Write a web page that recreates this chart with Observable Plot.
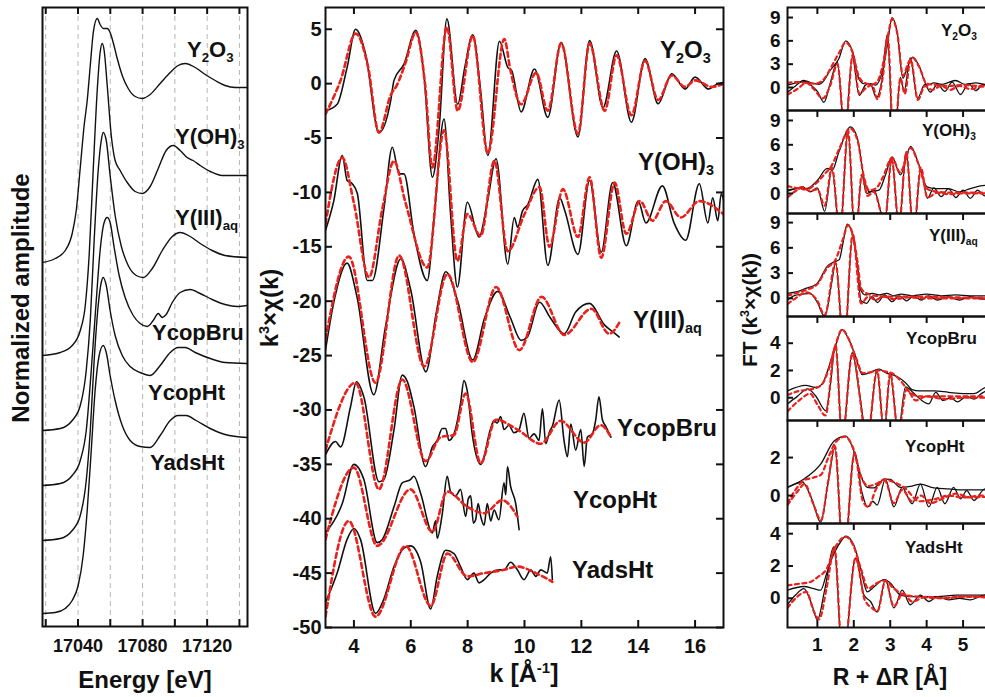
<!DOCTYPE html>
<html><head><meta charset="utf-8">
<script src="https://cdn.jsdelivr.net/npm/d3@7"></script>
<script src="https://cdn.jsdelivr.net/npm/@observablehq/plot@0.6"></script>
<style>
html,body{margin:0;padding:0;background:#fff;overflow:hidden;width:985px;height:697px;}
#root{position:relative;width:985px;height:697px;overflow:hidden;background:#fff;font-family:"Liberation Sans",Arial,sans-serif;}
.lbl{position:absolute;font-weight:bold;color:#111;white-space:nowrap;line-height:1;transform:translateY(-50%);}
.lbl sub{font-size:0.6em;vertical-align:baseline;position:relative;top:0.35em;}
.lbl sup{font-size:0.6em;vertical-align:baseline;position:relative;top:-0.6em;}
.rot{position:absolute;font-weight:bold;color:#111;white-space:nowrap;line-height:1;transform:translate(-50%,-50%) rotate(-90deg);}
.rot sup{font-size:0.6em;vertical-align:baseline;position:relative;top:-0.6em;}
.ttl{position:absolute;font-weight:bold;color:#111;white-space:nowrap;line-height:1;transform:translate(-50%,-50%);}
.ttl sup{font-size:0.6em;vertical-align:baseline;position:relative;top:-0.6em;}
</style></head><body><div id="root"></div>
<script>
// ---------------- DATA ----------------
const sampleNames = ["Y2O3","Y(OH)3","Y(III)aq","YcopBru","YcopHt","YadsHt"];

// Ticks
const E_TICKS = [17020,17040,17060,17080,17100,17120,17140];
const E_LABELS = [17040,17080,17120];
const K_TICKS = [4,6,8,10,12,14,16];
const CHI_TICKS = [5,0,-5,-10,-15,-20,-25,-30,-35,-40,-45,-50];
const R_TICKS = [1,2,3,4,5];
const FT_TICKS_9 = [0,3,6,9];
const FT_TICKS_4 = [0,2,4];
const FT_TICKS_2 = [0,2];

// XANES (energy eV, normalized amplitude with vertical offset)
const xanesY2O3 = [[17017.8,3.65],[17025.9,3.69],[17032.1,3.77],[17036.4,3.94],[17038.9,4.17],[17041.4,4.60],[17043.8,5.02],[17045.7,5.27],[17047.6,5.62],[17049.4,5.94],[17051.9,6.09],[17053.7,6.03],[17055.6,5.99],[17058.1,5.99],[17059.9,5.95],[17061.8,5.85],[17064.3,5.69],[17067.4,5.52],[17071.1,5.39],[17075.4,5.31],[17079.8,5.29],[17084.7,5.33],[17090.9,5.44],[17097.1,5.55],[17102.0,5.62],[17106.4,5.64],[17112.6,5.60],[17118.8,5.53],[17125.0,5.47],[17131.1,5.42],[17137.3,5.40],[17144.7,5.40]];
const xanesYOH3 = [[17017.8,2.72],[17029.0,2.75],[17036.4,2.82],[17041.4,2.97],[17044.5,3.22],[17046.9,3.72],[17049.4,4.57],[17051.9,5.37],[17053.7,5.75],[17055.0,5.84],[17056.2,5.77],[17058.1,5.42],[17060.6,4.92],[17063.0,4.67],[17066.1,4.57],[17070.5,4.45],[17075.4,4.36],[17079.8,4.34],[17084.7,4.41],[17089.7,4.59],[17094.6,4.77],[17099.0,4.82],[17103.3,4.77],[17107.6,4.70],[17111.3,4.67],[17115.7,4.62],[17121.9,4.56],[17129.3,4.52],[17144.7,4.52]];
const xanesYaq = [[17017.8,1.97],[17029.0,1.99],[17036.4,2.07],[17041.4,2.22],[17045.1,2.57],[17047.6,3.07],[17050.0,3.87],[17052.5,4.57],[17054.4,4.87],[17055.6,4.95],[17057.5,4.87],[17059.9,4.52],[17063.0,4.12],[17066.7,3.82],[17071.1,3.62],[17076.1,3.52],[17080.4,3.50],[17086.0,3.59],[17092.2,3.77],[17098.4,3.91],[17103.3,3.95],[17109.5,3.91],[17115.7,3.84],[17123.1,3.77],[17131.1,3.72],[17144.7,3.70]];
const xanesYcopBru = [[17017.8,1.42],[17029.0,1.44],[17036.4,1.52],[17041.4,1.67],[17045.1,1.97],[17048.2,2.57],[17051.3,3.27],[17053.7,3.77],[17056.2,4.05],[17058.1,4.10],[17059.9,4.05],[17062.4,3.80],[17065.5,3.52],[17069.2,3.30],[17074.2,3.12],[17078.5,3.04],[17082.9,3.01],[17086.6,3.07],[17089.7,3.14],[17092.2,3.10],[17094.6,3.13],[17098.4,3.25],[17103.3,3.35],[17109.5,3.38],[17115.7,3.34],[17123.1,3.28],[17131.1,3.23],[17138.6,3.21],[17144.7,3.22]];
const xanesYcopHt = [[17017.8,0.87],[17029.0,0.89],[17036.4,0.97],[17041.4,1.12],[17045.1,1.47],[17047.6,1.97],[17050.0,2.67],[17052.5,3.22],[17054.4,3.45],[17055.6,3.50],[17057.5,3.42],[17059.9,3.17],[17063.0,2.92],[17067.4,2.72],[17072.3,2.61],[17078.5,2.55],[17084.7,2.52],[17090.9,2.62],[17097.1,2.75],[17102.0,2.80],[17106.4,2.80],[17112.6,2.75],[17121.9,2.69],[17131.1,2.65],[17144.7,2.64]];
const xanesYadsHt = [[17017.8,0.14],[17025.9,0.15],[17032.1,0.19],[17036.4,0.27],[17040.1,0.42],[17043.2,0.72],[17045.7,1.17],[17048.2,1.77],[17050.6,2.37],[17053.1,2.72],[17055.6,2.82],[17057.5,2.75],[17059.9,2.52],[17063.0,2.27],[17067.4,2.02],[17072.3,1.87],[17078.5,1.81],[17084.7,1.80],[17090.9,1.92],[17097.1,2.07],[17102.0,2.12],[17107.0,2.12],[17113.2,2.07],[17121.9,1.99],[17131.1,1.93],[17144.7,1.90]];
const xanesSeries = [xanesY2O3, xanesYOH3, xanesYaq, xanesYcopBru, xanesYcopHt, xanesYadsHt];

// EXAFS k^3 chi(k): [k, value]; data (black) and fit (red)
const chiY2O3 = [[3.0,-2.5],[3.41,-1.9],[3.76,1.5],[4.06,5.0],[4.41,2.7],[4.88,-4.5],[5.29,-1.6],[5.41,0.3],[5.76,1.8],[6.18,4.9],[6.47,0.6],[6.76,-8.6],[7.0,-4.0],[7.27,5.95],[7.65,-1.9],[7.9,1.5],[8.18,4.5],[8.45,-0.5],[8.71,-6.6],[9.12,3.9],[9.41,1.5],[9.55,1.2],[9.88,-2.6],[10.35,1.35],[10.82,-3.1],[11.29,3.8],[11.88,-4.9],[12.29,3.95],[12.76,-2.2],[13.24,3.0],[13.76,-3.55],[14.24,2.3],[14.7,-1.85],[15.18,0.9],[15.65,-0.5],[16.0,0.6],[16.47,-0.5],[16.8,0.0],[17.0,0.1]];
const chiFitY2O3 = [[3.0,-2.8],[3.53,0.3],[4.06,4.6],[4.5,1.5],[4.88,-4.5],[5.3,-1.0],[5.5,-0.2],[5.8,1.8],[6.18,4.7],[6.5,0.0],[6.76,-7.7],[7.27,5.2],[7.65,-2.5],[8.18,4.4],[8.71,-6.4],[9.29,4.1],[9.5,1.3],[9.88,-1.9],[10.41,1.0],[10.82,-2.5],[11.29,3.7],[11.88,-4.6],[12.29,3.7],[12.82,-2.5],[13.24,2.6],[13.76,-2.9],[14.24,2.1],[14.7,-1.5],[15.18,0.75],[15.65,-0.3],[16.0,0.3],[16.6,-0.3],[17.0,0.0]];
const chiYOH3 = [[3.0,-13.5],[3.29,-10.8],[3.59,-6.6],[3.76,-8.9],[3.94,-9.2],[4.12,-10.1],[4.47,-18.1],[4.65,-18.1],[5.06,-11.4],[5.35,-5.85],[5.59,-8.3],[5.76,-8.3],[6.11,-13.8],[6.58,-18.1],[6.82,-12.3],[7.17,-3.25],[7.4,-12.0],[7.64,-18.7],[7.99,-10.9],[8.4,-14.1],[8.7,-10.8],[9.0,-6.9],[9.41,-16.6],[9.64,-12.3],[9.76,-13.2],[9.93,-11.7],[10.12,-11.1],[10.47,-8.8],[10.82,-16.7],[11.24,-10.5],[11.42,-11.7],[11.88,-15.7],[12.29,-8.9],[12.7,-15.5],[13.1,-9.1],[13.58,-14.9],[14.0,-10.8],[14.27,-12.8],[14.85,-9.4],[15.26,-12.8],[15.67,-14.4],[16.15,-9.2],[16.45,-12.8],[16.62,-10.5],[16.8,-12.6],[16.92,-10.1],[17.0,-10.7]];
const chiFitYOH3 = [[3.0,-12.9],[3.59,-6.8],[4.0,-11.0],[4.53,-17.8],[5.0,-11.5],[5.41,-7.1],[5.8,-10.8],[6.58,-16.9],[7.17,-4.3],[7.64,-16.3],[7.99,-12.0],[8.46,-14.0],[8.94,-7.1],[9.41,-15.4],[10.0,-12.0],[10.53,-9.5],[10.88,-15.0],[11.35,-9.7],[11.88,-14.1],[12.29,-8.6],[12.7,-16.0],[13.17,-9.1],[13.58,-13.8],[14.06,-10.8],[14.5,-12.6],[14.97,-10.8],[15.5,-12.3],[16.15,-10.8],[17.0,-12.0]];
const chiYaq = [[3.0,-24.5],[3.3,-20.0],[3.76,-16.5],[4.1,-19.5],[4.7,-28.6],[5.1,-22.5],[5.65,-16.1],[6.0,-19.0],[6.53,-26.5],[6.9,-21.0],[7.23,-17.3],[7.64,-19.9],[8.18,-25.4],[8.6,-21.5],[9.06,-19.1],[9.5,-21.5],[9.88,-23.6],[10.1,-23.3],[10.53,-20.1],[10.9,-21.5],[11.4,-23.0],[11.8,-21.0],[12.29,-20.2],[12.82,-22.2],[13.1,-22.8],[13.33,-23.3]];
const chiFitYaq = [[3.0,-23.5],[3.82,-15.9],[4.76,-27.5],[5.59,-15.8],[6.47,-26.0],[7.29,-17.5],[8.18,-25.6],[9.0,-18.7],[9.82,-24.5],[10.6,-19.6],[11.4,-23.1],[12.35,-20.7],[12.98,-23.0],[13.33,-22.0]];
const chiYcopBru = [[3.0,-34.1],[3.35,-32.9],[3.53,-33.4],[3.88,-29.7],[4.09,-27.4],[4.35,-28.8],[4.88,-36.6],[5.05,-36.4],[5.41,-31.8],[5.7,-26.8],[5.88,-27.4],[6.11,-29.7],[6.52,-35.2],[6.76,-33.4],[6.93,-32.8],[7.11,-31.7],[7.23,-31.7],[7.34,-32.8],[7.52,-32.2],[7.75,-29.4],[7.87,-27.3],[7.99,-28.3],[8.16,-32.2],[8.46,-35.0],[8.81,-31.7],[8.92,-31.0],[9.04,-31.2],[9.16,-30.6],[9.28,-31.8],[9.45,-31.4],[9.63,-32.1],[9.81,-31.8],[9.98,-30.3],[10.16,-32.6],[10.34,-32.2],[10.51,-32.8],[10.63,-29.9],[10.75,-33.1],[10.88,-32.0],[10.98,-31.5],[11.22,-29.1],[11.39,-32.8],[11.51,-34.3],[11.63,-31.3],[11.8,-33.7],[11.98,-31.8],[12.1,-35.2],[12.21,-32.5],[12.39,-32.2],[12.5,-31.0],[12.62,-28.8],[12.74,-30.9],[12.86,-31.5],[13.04,-32.5]];
const chiFitYcopBru = [[3.0,-33.7],[4.06,-27.5],[4.88,-37.3],[5.7,-27.2],[6.52,-34.7],[7.05,-32.5],[7.52,-32.3],[7.93,-28.5],[8.46,-34.9],[8.99,-30.9],[9.75,-31.8],[10.57,-33.1],[11.27,-31.0],[12.1,-33.0],[12.68,-31.4],[13.04,-32.5]];
const chiYcopHt = [[3.0,-41.3],[3.59,-38.6],[4.0,-35.0],[4.35,-36.4],[4.82,-42.2],[5.0,-41.9],[5.41,-38.9],[5.7,-36.7],[5.99,-36.4],[6.11,-36.1],[6.35,-37.7],[6.76,-41.3],[6.87,-40.2],[6.93,-41.8],[7.11,-39.5],[7.28,-36.1],[7.4,-37.5],[7.58,-37.9],[7.75,-37.3],[7.93,-39.8],[8.02,-38.2],[8.11,-37.9],[8.2,-40.4],[8.28,-40.1],[8.37,-38.6],[8.46,-39.8],[8.58,-40.6],[8.69,-38.6],[8.81,-40.2],[8.93,-39.2],[9.1,-40.1],[9.28,-36.7],[9.34,-37.8],[9.4,-35.2],[9.51,-37.0],[9.69,-38.6],[9.81,-41.0]];
const chiFitYcopHt = [[3.0,-41.9],[4.0,-35.3],[4.82,-42.5],[5.99,-37.3],[6.76,-41.2],[7.28,-37.5],[7.99,-38.9],[8.58,-39.5],[9.22,-38.3],[9.75,-39.8]];
const chiYadsHt = [[3.0,-47.7],[3.41,-45.0],[3.76,-41.9],[4.0,-40.9],[4.23,-41.9],[4.76,-48.7],[5.05,-47.4],[5.41,-44.4],[5.76,-42.7],[5.99,-42.5],[6.35,-44.0],[6.7,-48.3],[6.93,-45.3],[7.23,-42.9],[7.52,-43.2],[7.75,-44.4],[7.99,-45.6],[8.22,-45.0],[8.4,-45.9],[8.58,-45.6],[8.81,-45.0],[9.1,-44.7],[9.28,-44.7],[9.51,-44.0],[9.75,-44.7],[9.98,-45.6],[10.22,-44.7],[10.4,-45.3],[10.57,-44.7],[10.8,-45.0],[10.92,-43.5],[10.98,-45.6]];
const chiFitYadsHt = [[3.0,-49.0],[3.82,-40.2],[4.76,-49.0],[5.82,-42.5],[6.7,-48.0],[7.29,-43.2],[7.99,-45.3],[8.58,-45.0],[9.28,-44.7],[9.75,-44.4],[10.4,-45.0],[10.98,-45.8]];
const chiData = [chiY2O3, chiYOH3, chiYaq, chiYcopBru, chiYcopHt, chiYadsHt];
const chiFit = [chiFitY2O3, chiFitYOH3, chiFitYaq, chiFitYcopBru, chiFitYcopHt, chiFitYadsHt];

// FT magnitude and imaginary part: [R, value]
const ftMagY2O3 = [[0.18,0.3],[0.41,0.6],[0.68,0.8],[0.9,0.5],[1.05,0.4],[1.2,1.0],[1.32,2.0],[1.59,3.7],[1.78,6.0],[1.96,4.7],[2.14,1.1],[2.28,0.5],[2.45,0.5],[2.6,0.3],[2.78,2.0],[2.92,5.4],[3.05,9.0],[3.19,7.1],[3.35,1.2],[3.47,2.6],[3.62,3.9],[3.79,2.8],[4.01,0.3],[4.2,0.6],[4.42,0.4],[4.79,0.9],[5.06,0.4],[5.35,0.6],[5.61,0.4],[6.0,0.5]];
const ftImY2O3 = [[0.18,-0.6],[0.4,0.2],[0.62,0.9],[0.85,0.2],[1.0,-0.5],[1.18,-1.9],[1.35,0.5],[1.55,3.3],[1.75,-6.0],[1.96,3.9],[2.15,-1.0],[2.32,0.3],[2.45,0.5],[2.62,-1.3],[2.78,1.2],[2.92,6.8],[3.1,-8.0],[3.28,1.3],[3.38,-0.5],[3.55,3.8],[3.75,-1.4],[3.95,0.4],[4.1,-0.6],[4.3,0.4],[4.5,-0.5],[4.7,0.7],[4.93,-0.9],[5.15,0.5],[5.35,-0.4],[5.55,0.4],[5.75,-0.3],[6.0,0.2]];
const ftMagFitY2O3 = [[0.18,0.6],[0.4,0.7],[0.68,0.6],[0.95,0.5],[1.2,1.2],[1.4,2.8],[1.6,4.5],[1.78,5.8],[1.96,4.6],[2.14,1.4],[2.3,0.6],[2.5,0.4],[2.65,0.8],[2.8,3.0],[2.95,7.0],[3.05,8.8],[3.2,6.8],[3.35,1.5],[3.5,3.2],[3.62,3.8],[3.8,2.6],[4.0,0.5],[4.3,0.3],[4.6,0.2],[5.0,0.3],[5.5,0.2],[6.0,0.2]];
const ftImFitY2O3 = [[0.18,-0.9],[0.45,-0.2],[0.7,0.6],[0.9,-0.2],[1.15,-1.4],[1.35,0.2],[1.55,3.0],[1.76,-6.0],[1.97,4.2],[2.15,-0.8],[2.35,0.0],[2.5,0.3],[2.65,-1.5],[2.8,1.5],[2.93,6.5],[3.1,-8.0],[3.28,1.2],[3.4,-0.8],[3.56,3.6],[3.76,-1.6],[3.95,0.2],[4.15,-0.3],[4.4,0.2],[4.65,-0.3],[4.9,0.2],[5.2,-0.2],[5.5,0.1],[6.0,0.0]];

const ftMagYOH3 = [[0.18,0.4],[0.41,0.6],[0.7,0.6],[1.0,1.6],[1.27,3.1],[1.41,2.9],[1.59,5.1],[1.91,8.2],[2.1,6.8],[2.28,1.9],[2.42,0.2],[2.69,0.4],[2.87,2.3],[3.05,4.5],[3.28,2.3],[3.56,5.8],[3.79,3.5],[4.01,0.8],[4.24,0.6],[4.6,0.6],[4.9,0.2],[5.2,0.6],[5.61,1.0],[6.0,0.8]];
const ftImYOH3 = [[0.18,0.3],[0.4,0.6],[0.6,0.8],[0.8,0.2],[1.0,0.7],[1.2,-2.2],[1.4,3.0],[1.62,-5.0],[1.84,7.6],[2.04,-6.0],[2.22,2.2],[2.36,0.0],[2.55,0.4],[2.85,-3.5],[3.04,4.4],[3.24,-4.0],[3.44,5.2],[3.64,-5.0],[3.84,3.0],[4.02,-0.6],[4.2,0.7],[4.4,-0.4],[4.6,0.6],[4.8,-0.5],[5.0,0.4],[5.2,-0.6],[5.4,0.4],[5.6,-0.3],[5.8,0.5],[6.0,0.0]];
const ftMagFitYOH3 = [[0.18,0.9],[0.4,0.7],[0.7,0.5],[0.95,1.2],[1.2,2.4],[1.4,3.5],[1.6,5.5],[1.9,8.0],[2.1,6.6],[2.28,2.0],[2.42,0.4],[2.6,0.6],[2.8,2.0],[3.05,4.4],[3.27,2.6],[3.56,5.6],[3.8,3.3],[4.0,0.6],[4.3,0.2],[4.7,0.1],[5.2,0.1],[6.0,0.1]];
const ftImFitYOH3 = [[0.18,-0.5],[0.4,0.3],[0.6,0.8],[0.8,0.3],[1.0,0.5],[1.2,-1.5],[1.4,3.2],[1.62,-5.0],[1.84,7.8],[2.04,-6.0],[2.22,2.3],[2.38,-0.3],[2.55,0.2],[2.85,-3.5],[3.04,4.3],[3.24,-4.0],[3.44,5.0],[3.64,-5.0],[3.84,3.2],[4.02,-0.5],[4.3,0.1],[4.6,-0.1],[5.0,0.0],[6.0,0.0]];

const ftMagYaq = [[0.18,0.6],[0.45,0.8],[0.7,1.2],[0.9,1.5],[1.0,1.8],[1.27,3.8],[1.45,4.3],[1.6,4.6],[1.7,6.5],[1.82,8.8],[1.95,7.8],[2.08,4.6],[2.19,1.0],[2.32,0.4],[2.5,0.6],[2.7,0.4],[2.9,0.6],[3.1,0.3],[3.3,0.5],[3.6,0.3],[4.0,0.5],[4.4,0.3],[4.8,0.4],[5.2,0.3],[5.6,0.3],[6.0,0.3]];
const ftImYaq = [[0.18,-0.2],[0.35,0.3],[0.6,0.5],[0.8,0.6],[1.0,-0.5],[1.2,-2.2],[1.4,2.0],[1.5,4.3],[1.73,-6.0],[1.97,7.6],[2.08,4.4],[2.2,-0.3],[2.35,-0.6],[2.5,0.2],[2.65,-0.5],[2.85,0.4],[3.05,-0.4],[3.25,0.3],[3.45,-0.3],[3.65,0.3],[3.85,-0.2],[4.05,0.3],[4.3,-0.2],[4.6,0.2],[4.9,-0.2],[5.2,0.2],[5.5,-0.1],[6.0,0.1]];
const ftMagFitYaq = [[0.18,0.3],[0.4,0.6],[0.7,1.0],[1.0,1.7],[1.27,3.6],[1.5,4.6],[1.7,7.0],[1.84,8.7],[1.97,7.6],[2.1,4.4],[2.2,1.2],[2.35,0.6],[2.6,0.3],[3.0,0.2],[3.5,0.2],[4.0,0.2],[5.0,0.1],[6.0,0.1]];
const ftImFitYaq = [[0.18,-0.7],[0.4,0.0],[0.7,0.7],[1.0,-0.3],[1.2,-2.0],[1.5,4.2],[1.73,-6.0],[1.97,7.6],[2.2,-0.6],[2.4,0.2],[2.6,-0.2],[2.8,0.2],[3.1,-0.1],[3.5,0.1],[4.0,0.0],[6.0,0.0]];

const ftMagYcopBru = [[0.18,0.5],[0.68,0.9],[0.95,0.75],[1.13,1.0],[1.32,2.3],[1.5,3.8],[1.68,5.0],[1.86,4.3],[2.04,3.1],[2.23,1.7],[2.4,1.8],[2.69,2.1],[2.9,1.8],[3.05,1.7],[3.22,1.5],[3.42,1.1],[3.6,0.6],[3.8,0.5],[4.2,0.5],[4.6,0.4],[5.0,0.3],[5.3,0.3],[5.61,0.75],[6.0,0.9]];
const ftImYcopBru = [[0.18,-0.45],[0.45,0.1],[0.73,0.65],[0.95,0.15],[1.23,-0.95],[1.35,0.8],[1.5,3.9],[1.68,-3.0],[1.96,3.3],[2.15,0.4],[2.37,-3.0],[2.64,2.0],[2.83,-2.5],[3.0,1.7],[3.22,-2.5],[3.42,0.8],[3.62,0.4],[3.82,-0.1],[4.06,-0.45],[4.25,0.4],[4.45,-0.2],[4.65,0.0],[4.85,-0.3],[5.1,0.1],[5.3,-0.1],[5.5,0.3],[5.75,0.6],[6.0,0.4]];
const ftMagFitYcopBru = [[0.18,0.2],[0.5,0.5],[0.8,0.6],[1.1,0.9],[1.3,2.0],[1.5,3.9],[1.68,5.0],[1.86,4.3],[2.05,3.0],[2.25,1.8],[2.5,1.9],[2.69,2.0],[2.9,1.9],[3.05,1.8],[3.3,1.2],[3.5,0.5],[3.8,0.1],[4.2,0.1],[5.0,0.1],[6.0,0.1]];
const ftImFitYcopBru = [[0.18,-1.0],[0.5,-0.2],[0.8,0.3],[1.0,-0.5],[1.22,-1.3],[1.5,3.8],[1.68,-3.0],[1.96,3.2],[2.37,-3.0],[2.64,2.0],[2.83,-2.5],[3.0,1.8],[3.22,-2.5],[3.45,0.6],[3.7,-0.2],[4.0,0.1],[4.5,-0.1],[5.0,0.0],[6.0,0.0]];

const ftMagYcopHt = [[0.18,0.43],[0.63,0.87],[1.09,1.65],[1.46,2.87],[1.78,3.13],[2.0,2.35],[2.18,1.13],[2.37,0.43],[2.55,0.4],[2.83,0.87],[3.0,0.85],[3.28,0.43],[3.6,0.5],[3.83,0.6],[4.2,0.4],[4.6,0.35],[5.0,0.3],[5.5,0.3],[6.0,0.3]];
const ftImYcopHt = [[0.18,0.43],[0.59,0.7],[0.85,-0.2],[1.09,-1.4],[1.28,0.5],[1.48,2.5],[1.72,-3.5],[2.02,2.3],[2.22,0.2],[2.38,-0.6],[2.52,-0.3],[2.64,-0.5],[2.87,0.87],[3.1,-0.6],[3.33,0.43],[3.6,-0.43],[3.83,0.6],[4.06,-0.6],[4.29,0.43],[4.5,-0.43],[4.74,0.43],[4.93,-0.17],[5.1,0.26],[5.3,-0.26],[5.6,0.35],[6.0,0.3]];
const ftMagFitYcopHt = [[0.18,-0.4],[0.4,0.3],[0.63,0.8],[0.9,0.95],[1.1,1.1],[1.3,2.0],[1.5,2.8],[1.76,3.1],[2.0,2.4],[2.2,1.0],[2.4,0.5],[2.6,0.6],[2.85,0.85],[3.1,0.7],[3.4,0.4],[3.8,-0.3],[4.2,-0.2],[4.6,0.0],[5.0,-0.1],[5.5,0.0],[6.0,0.0]];
const ftImFitYcopHt = [[0.18,-0.5],[0.45,0.2],[0.65,0.6],[0.9,-0.5],[1.1,-1.3],[1.3,0.8],[1.48,2.6],[1.72,-3.5],[2.02,2.2],[2.25,-0.3],[2.4,-0.6],[2.6,0.3],[2.85,0.8],[3.1,-0.4],[3.33,0.3],[3.6,-0.3],[3.85,0.0],[4.1,-0.4],[4.4,-0.2],[4.8,0.1],[5.2,-0.1],[6.0,0.0]];

const ftMagYadsHt = [[0.18,0.5],[0.63,0.73],[0.9,0.6],[1.09,0.5],[1.25,1.5],[1.37,2.3],[1.64,3.5],[1.78,3.85],[2.0,3.3],[2.18,1.9],[2.37,0.4],[2.55,0.7],[2.83,1.15],[3.0,0.95],[3.28,0.2],[3.6,0.1],[3.83,0.1],[4.3,0.1],[4.8,0.2],[5.3,0.2],[6.0,0.2]];
const ftImYadsHt = [[0.18,-0.4],[0.4,0.2],[0.63,0.6],[0.85,-0.4],[1.0,-1.35],[1.2,0.5],[1.46,3.2],[1.7,-4.0],[2.05,2.5],[2.28,0.2],[2.46,-0.2],[2.64,-0.85],[2.87,1.15],[3.1,-0.6],[3.33,0.5],[3.55,-0.4],[3.83,0.2],[4.06,-0.2],[4.3,0.1],[4.6,-0.1],[4.9,0.0],[5.2,-0.1],[5.6,0.2],[6.0,0.1]];
const ftMagFitYadsHt = [[0.18,0.8],[0.5,0.9],[0.8,1.0],[1.0,1.3],[1.25,1.8],[1.5,3.2],[1.78,3.8],[2.0,3.2],[2.2,1.8],[2.4,0.6],[2.6,0.9],[2.85,1.1],[3.1,0.6],[3.4,0.2],[3.8,0.1],[4.3,0.0],[5.0,0.1],[6.0,0.1]];
const ftImFitYadsHt = [[0.18,-0.6],[0.45,0.1],[0.7,0.4],[0.9,-0.8],[1.05,-1.3],[1.25,0.6],[1.47,3.1],[1.7,-4.0],[2.05,2.5],[2.3,-0.1],[2.5,-0.6],[2.65,-0.8],[2.87,1.1],[3.1,-0.5],[3.35,0.3],[3.6,-0.2],[4.0,0.1],[4.5,0.0],[5.0,0.1],[6.0,0.0]];

const ftMag = [ftMagY2O3, ftMagYOH3, ftMagYaq, ftMagYcopBru, ftMagYcopHt, ftMagYadsHt];
const ftIm = [ftImY2O3, ftImYOH3, ftImYaq, ftImYcopBru, ftImYcopHt, ftImYadsHt];
const ftMagFit = [ftMagFitY2O3, ftMagFitYOH3, ftMagFitYaq, ftMagFitYcopBru, ftMagFitYcopHt, ftMagFitYadsHt];
const ftImFit = [ftImFitY2O3, ftImFitYOH3, ftImFitYaq, ftImFitYcopBru, ftImFitYcopHt, ftImFitYadsHt];
const ftYDomains = [[-2.96,10.29],[-2.47,10.23],[-2.16,10.08],[-1.67,5.96],[-1.47,3.95],[-1.81,4.63]];
const ftYTicks = [FT_TICKS_9, FT_TICKS_9, FT_TICKS_9, FT_TICKS_4, FT_TICKS_2, FT_TICKS_4];

// ---------------- RENDER ----------------
const FONT = "'Liberation Sans', Arial, Helvetica, sans-serif";
const BLACK = "#111";
const RED = "#e8211c";
const root = document.getElementById("root");

function line(arr, opts) {
  return Plot.line(arr.map(([x, y]) => ({x, y})), {x: "x", y: "y", curve: "monotone-x", clip: true, ...opts});
}
function place(svg, left, top) {
  svg.style.position = "absolute";
  svg.style.left = left + "px";
  svg.style.top = top + "px";
  root.appendChild(svg);
}
const baseStyle = (fs) => ({fontFamily: FONT, fontSize: fs + "px", fontWeight: "bold", color: BLACK, background: "transparent", overflow: "visible"});
const tickText = (fs) => ({fontSize: fs, fontWeight: "bold", fontFamily: FONT, fill: BLACK});

// LEFT: XANES
{
  const W = 260, H = 697, mL = 42, mR = 13, mT = 7, mB = 71;
  const fh = H - mT - mB;
  const svg = Plot.plot({
    width: W, height: H, marginLeft: mL, marginRight: mR, marginTop: mT, marginBottom: mB,
    x: {domain: [17018, 17145]}, y: {domain: [0.01, 6.20], axis: null},
    style: baseStyle(18),
    marks: [
      Plot.ruleX(E_TICKS, {stroke: "#b5b5b5", strokeWidth: 1, strokeDasharray: "5,4"}),
      ...xanesSeries.map(s => line(s, {stroke: BLACK, strokeWidth: 1.4})),
      Plot.tickX(E_TICKS, {insetBottom: fh - 7, stroke: BLACK, strokeWidth: 2}),
      Plot.tickX(E_TICKS, {insetTop: fh - 7, stroke: BLACK, strokeWidth: 2}),
      Plot.axisX(E_LABELS, {anchor: "bottom", tickSize: 0, tickPadding: 13, tickFormat: d => String(d), label: null, ...tickText(18)}),
      Plot.frame({stroke: BLACK, strokeWidth: 2})
    ]
  });
  place(svg, 0, 0);
}

// MIDDLE: k^3 chi(k)
{
  const W = 485, H = 697, mL = 75, mR = 12, mT = 7, mB = 70;
  const fw = W - mL - mR, fh = H - mT - mB;
  const marks = [];
  chiData.forEach((s, i) => {
    marks.push(line(s, {stroke: BLACK, strokeWidth: 1.6}));
    marks.push(line(chiFit[i], {stroke: RED, strokeWidth: 2.6, strokeDasharray: "5,3.5"}));
  });
  const svg = Plot.plot({
    width: W, height: H, marginLeft: mL, marginRight: mR, marginTop: mT, marginBottom: mB,
    x: {domain: [3, 17]}, y: {domain: [-50, 7.0]},
    style: baseStyle(20),
    marks: [
      ...marks,
      Plot.tickX(K_TICKS, {insetBottom: fh - 7, stroke: BLACK, strokeWidth: 2}),
      Plot.tickX(K_TICKS, {insetTop: fh - 7, stroke: BLACK, strokeWidth: 2}),
      Plot.tickY(CHI_TICKS, {insetRight: fw - 7, stroke: BLACK, strokeWidth: 2}),
      Plot.tickY(CHI_TICKS, {insetLeft: fw - 7, stroke: BLACK, strokeWidth: 2}),
      Plot.axisX(K_TICKS, {anchor: "bottom", tickSize: 0, tickPadding: 11, tickFormat: d => String(d), label: null, ...tickText(20)}),
      Plot.axisY(CHI_TICKS, {anchor: "left", tickSize: 0, tickPadding: 4, tickFormat: d => String(d), label: null, ...tickText(20)}),
      Plot.frame({stroke: BLACK, strokeWidth: 2})
    ]
  });
  place(svg, 250, 0);
}

// RIGHT: FT panels
{
  const frames = [[7,110],[110,213],[213,316],[316,420],[420,523],[523,627]];
  const W = 290, mL = 65, mR = 13;
  const fw = W - mL - mR;
  frames.forEach(([t, b], i) => {
    const last = i === frames.length - 1;
    const mT = 2, mB = last ? 697 - b : 2;
    const H = b - t + mT + mB;
    const fh = b - t;
    const marks = [
      line(ftMag[i], {stroke: BLACK, strokeWidth: 1.3}),
      line(ftIm[i], {stroke: BLACK, strokeWidth: 1.3}),
      line(ftMagFit[i], {stroke: RED, strokeWidth: 2.2, strokeDasharray: "4,3.5"}),
      line(ftImFit[i], {stroke: RED, strokeWidth: 2.2, strokeDasharray: "4,3.5"}),
      Plot.tickX(R_TICKS, {insetBottom: fh - 7, stroke: BLACK, strokeWidth: 2}),
      Plot.tickY(ftYTicks[i], {insetRight: fw - 6, stroke: BLACK, strokeWidth: 2}),
      Plot.axisY(ftYTicks[i], {anchor: "left", tickSize: 0, tickPadding: 7, tickFormat: d => String(d), label: null, ...tickText(19)}),
      Plot.frame({stroke: BLACK, strokeWidth: 2})
    ];
    if (last) {
      marks.push(Plot.tickX(R_TICKS, {insetTop: fh - 7, stroke: BLACK, strokeWidth: 2}));
      marks.push(Plot.axisX(R_TICKS, {anchor: "bottom", tickSize: 0, tickPadding: 10, tickFormat: d => String(d), label: null, ...tickText(19)}));
    }
    const svg = Plot.plot({
      width: W, height: H, marginLeft: mL, marginRight: mR, marginTop: mT, marginBottom: mB,
      x: {domain: [0.18, 6.0], axis: last ? undefined : null}, y: {domain: ftYDomains[i]},
      style: baseStyle(19),
      marks
    });
    place(svg, 722, t - mT);
  });
}

// ---------------- TEXT LABELS ----------------
function addLabel(html, cls, left, top, size) {
  const d = document.createElement("div");
  d.className = cls;
  d.innerHTML = html;
  d.style.left = left + "px";
  d.style.top = top + "px";
  d.style.fontSize = size + "px";
  root.appendChild(d);
}
const labelHtml = ["Y<sub>2</sub>O<sub>3</sub>", "Y(OH)<sub>3</sub>", "Y(III)<sub>aq</sub>", "YcopBru", "YcopHt", "YadsHt"];
const leftLabelPos = [[187,50],[175,137],[175,218],[152,333],[148,393],[150,463]];
const midLabelPos = [[660,50],[638,162],[633,320],[617,428],[573,500],[572,570]];
const rightLabelPos = [[941,30],[922,130],[929,235],[906,338],[905,446],[905,547]];
labelHtml.forEach((h, i) => {
  addLabel(h, "lbl", leftLabelPos[i][0], leftLabelPos[i][1], 22);
  addLabel(h, "lbl", midLabelPos[i][0], midLabelPos[i][1], 24);
  addLabel(h, "lbl", rightLabelPos[i][0], rightLabelPos[i][1], 17);
});
addLabel("Normalized amplitude", "rot", 21, 298, 24);
addLabel("k<sup>3</sup>×χ(k)", "rot", 270, 308, 24);
addLabel("FT (k<sup>3</sup>×χ(k))", "rot", 749, 310, 21);
addLabel("Energy [eV]", "ttl", 145, 680, 24);
addLabel("k [Å<sup>-1</sup>]", "ttl", 524, 673, 25);
addLabel("R + ΔR [Å]", "ttl", 890, 677, 23);
</script></body></html>
